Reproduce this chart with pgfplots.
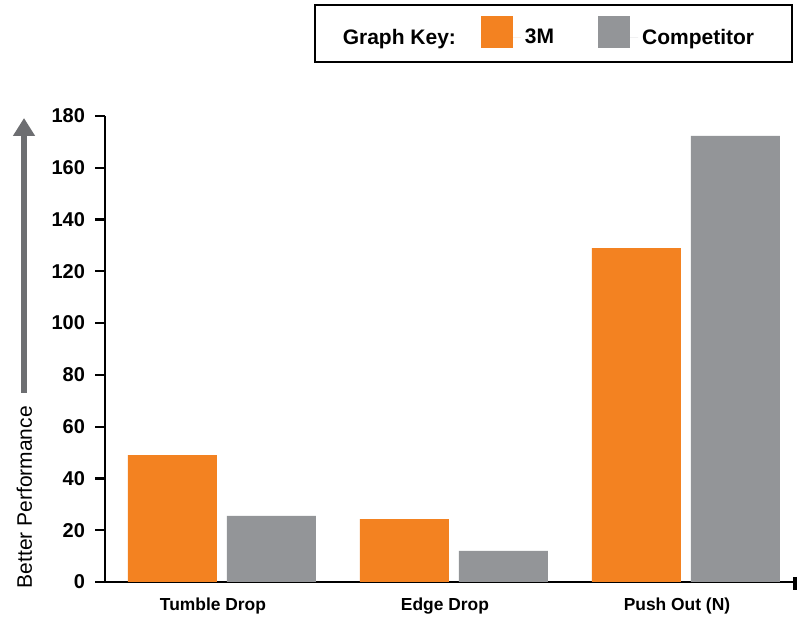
\documentclass[border=0pt]{standalone}
\usepackage{fontspec}
\setmainfont{Liberation Sans}
\usepackage{pgfplots}
\pgfplotsset{compat=1.18}
\usetikzlibrary{arrows.meta}
\definecolor{mmmorange}{RGB}{243,130,33}
\definecolor{compgray}{RGB}{147,149,152}
\definecolor{arrowgray}{RGB}{109,110,113}

\begin{document}
\begin{tikzpicture}
\begin{axis}[
  scale only axis,
  width=345pt, height=233pt,
  clip=false,
  ybar=5pt, bar width=44.5pt,
  xmin=-0.504, xmax=2.47,
  ymin=0, ymax=180,
  ytick={0,20,...,180},
  xtick=data,
  xticklabels={Tumble Drop, Edge Drop, Push Out (N)},
  axis x line*=bottom, axis y line*=left,
  axis line style={line width=1.4pt},
  tick align=outside,
  major tick length=5pt,
  y tick style={line width=1.1pt, black},
  x tick style={draw=none},
  /pgf/number format/assume math mode=true,
  yticklabel style={font=\bfseries\fontsize{10}{12}\selectfont, xshift=-1.5pt},
  xticklabel style={font=\bfseries\fontsize{8.7}{10}\selectfont, xshift=-4.5pt, yshift=0.5pt},
  ylabel={Better Performance},
  ylabel style={at={(axis description cs:-0.117,0.182)}, anchor=center,
    font=\fontsize{10.5}{12}\selectfont},
  legend columns=-1,
  legend style={at={(axis description cs:0.997,1.24)}, anchor=north east,
    draw=black, line width=0.8pt,
    font=\bfseries\fontsize{10.5}{12}\selectfont,
    inner xsep=12pt, inner ysep=5.5pt,
    /tikz/every even column/.append style={column sep=10.5pt}},
]
\addlegendimage{legend image code/.code={}}
\addlegendentry{Graph Key:}
\addplot[fill=mmmorange, draw=none,
  legend image code/.code={\fill[mmmorange] (0pt,-5pt) rectangle (16pt,11pt);
    \path (0pt,0pt) -- (20pt,0pt);}]
  coordinates {(0,49) (1,24.3) (2,129)};
\addlegendentry{3M\rule{9.5pt}{0pt}}
\addplot[fill=compgray, draw=none,
  legend image code/.code={\fill[compgray] (0pt,-5pt) rectangle (16pt,11pt);
    \path (0pt,0pt) -- (20pt,0pt);}]
  coordinates {(0,25.5) (1,12) (2,172.3)};
\addlegendentry{Competitor\rule{5pt}{0pt}}

% performance arrow and end tick
\draw[arrowgray, line width=3pt, -{Triangle[width=10.5pt,length=9pt]}]
  (axis description cs:-0.1174,0.406) -- (axis description cs:-0.1174,0.9957);
\draw[line width=1.7pt] ([yshift=2.5pt]axis description cs:1,0) -- ([yshift=-4pt]axis description cs:1,0);
\path (axis description cs:-0.1522,-0.0708) rectangle (axis description cs:1.0087,1.2489);
\end{axis}
\end{tikzpicture}
\end{document}
